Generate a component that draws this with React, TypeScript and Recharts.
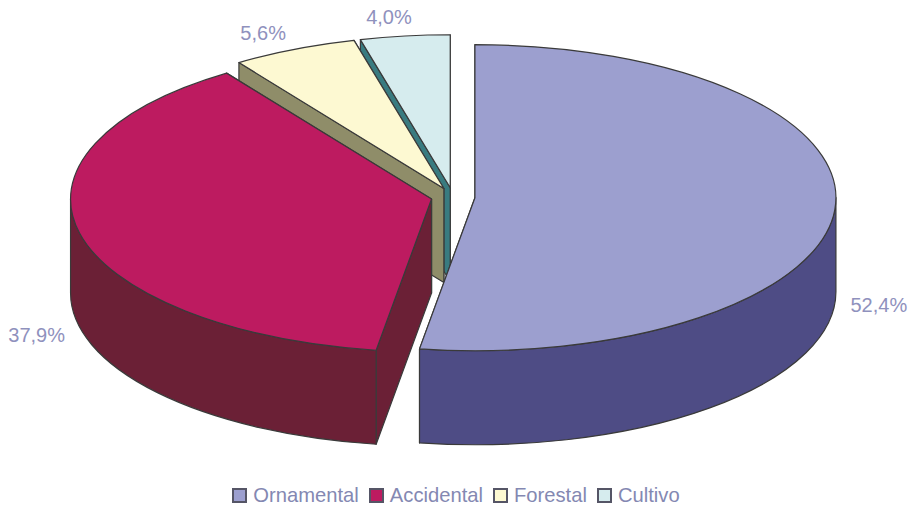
import React from "react";
import { PieChart, Pie, Cell, Legend } from "recharts";

// Ordered as listed in the legend (clockwise from twelve o'clock on the pie).
const categories = ["Ornamental", "Accidental", "Forestal", "Cultivo"];
const shares = [52.4, 37.9, 5.6, 4.0];
const topColors = ["#9c9fcf", "#bd1b60", "#fdf9d2", "#d6ecee"];
const wallColors = ["#4e4c85", "#6b2036", "#8f8d69", "#397b80"];
// Offset of each value label from the slice's rim point, in pixels.
const labelNudgeX = [44, -43, -31, -16];
const labelNudgeY = [96, 102, -16, -19];

// Painted back to front, so the list runs counter-clockwise from the top.
const slices = categories
  .map((name, i) => ({
    name,
    value: shares[i],
    fill: topColors[i],
    wall: wallColors[i],
    nudgeX: labelNudgeX[i],
    nudgeY: labelNudgeY[i],
  }))
  .reverse();

const RAD = Math.PI / 180;
const SQUASH = 153 / 361; // vertical foreshortening of the tilted disc
const DEPTH = 94; // height of the extruded rim
const EXPLODE = 22; // distance each slice is pulled from the centre
const EDGE = "#3a3a3a";

const explodedCentre = (cx: number, cy: number, mid: number) => ({
  x: cx + EXPLODE * Math.cos(mid * RAD),
  y: cy - EXPLODE * Math.sin(mid * RAD) * SQUASH,
});

function Slice3D(props: any) {
  const { cx, cy, outerRadius: r, startAngle, endAngle, midAngle, fill, payload } = props;
  const lo = Math.min(startAngle, endAngle);
  const hi = Math.max(startAngle, endAngle);
  const mid = midAngle ?? (lo + hi) / 2;
  const c = explodedCentre(cx, cy, mid);
  const rim = (a: number) => ({
    x: c.x + r * Math.cos(a * RAD),
    y: c.y - r * SQUASH * Math.sin(a * RAD),
  });
  const ry = r * SQUASH;
  const p0 = rim(lo);
  const p1 = rim(hi);
  const large = hi - lo > 180 ? 1 : 0;
  const top = `M${c.x},${c.y} L${p0.x},${p0.y} A${r},${ry} 0 ${large} 0 ${p1.x},${p1.y} Z`;

  const radialWall = (p: { x: number; y: number }) =>
    `M${c.x},${c.y} L${p.x},${p.y} L${p.x},${p.y + DEPTH} L${c.x},${c.y + DEPTH} Z`;

  // The rim shows only on the near half of the disc.
  const frontWalls: string[] = [];
  [
    [180, 360],
    [540, 720],
  ].forEach(([a, b]) => {
    const s = Math.max(lo, a);
    const e = Math.min(hi, b);
    if (e > s) {
      const ps = rim(s);
      const pe = rim(e);
      frontWalls.push(
        `M${ps.x},${ps.y} A${r},${ry} 0 0 0 ${pe.x},${pe.y} L${pe.x},${pe.y + DEPTH} A${r},${ry} 0 0 1 ${ps.x},${ps.y + DEPTH} Z`
      );
    }
  });

  const wall = payload?.wall ?? props.wall;
  return (
    <g stroke={EDGE} strokeWidth={1.2} strokeLinejoin="round">
      <path d={radialWall(p0)} fill={wall} />
      <path d={radialWall(p1)} fill={wall} />
      {frontWalls.map((d) => (
        <path key={d} d={d} fill={wall} />
      ))}
      <path d={top} fill={fill} />
    </g>
  );
}

function ValueLabel(props: any) {
  const { cx, cy, outerRadius: r, midAngle, payload, value } = props;
  const c = explodedCentre(cx, cy, midAngle);
  const x = c.x + r * Math.cos(midAngle * RAD) + (payload?.nudgeX ?? 0);
  const y = c.y - r * SQUASH * Math.sin(midAngle * RAD) + (payload?.nudgeY ?? 0);
  return (
    <text
      x={x}
      y={y}
      textAnchor="middle"
      dominantBaseline="central"
      fontFamily="'Liberation Sans', Arial, sans-serif"
      fontSize={20}
      fill="#8f91bd"
    >
      {Number(value).toFixed(1).replace(".", ",")}%
    </text>
  );
}

function LegendRow() {
  return (
    <div
      style={{
        display: "flex",
        justifyContent: "center",
        alignItems: "center",
        fontFamily: "'Liberation Sans', Arial, sans-serif",
        fontSize: 20.2,
        lineHeight: "26px",
        color: "#8488b2",
      }}
    >
      {categories.map((name, i) => (
        <span key={name} style={{ display: "inline-flex", alignItems: "center", marginRight: i < categories.length - 1 ? 10 : 0 }}>
          <span
            style={{
              display: "inline-block",
              width: 11,
              height: 11,
              background: topColors[i],
              border: "2px solid #555566",
              marginRight: 6,
            }}
          />
          {name}
        </span>
      ))}
    </div>
  );
}

export default function App() {
  return (
    <div style={{ position: "absolute", left: 0, top: 0, width: 912, height: 507, background: "#fff" }}>
      <PieChart width={912} height={507} margin={{ top: 0, right: 0, bottom: 0, left: 0 }}>
        <Pie
          data={slices}
          dataKey="value"
          nameKey="name"
          cx={453}
          cy={197}
          innerRadius={0}
          outerRadius={361}
          startAngle={90}
          endAngle={450}
          stroke="none"
          isAnimationActive={false}
          shape={Slice3D}
          label={ValueLabel}
          labelLine={false}
        >
          {slices.map((s) => (
            <Cell key={s.name} fill={s.fill} />
          ))}
        </Pie>
        <Legend content={LegendRow} wrapperStyle={{ left: 0, top: 482, width: 912 }} />
      </PieChart>
    </div>
  );
}
